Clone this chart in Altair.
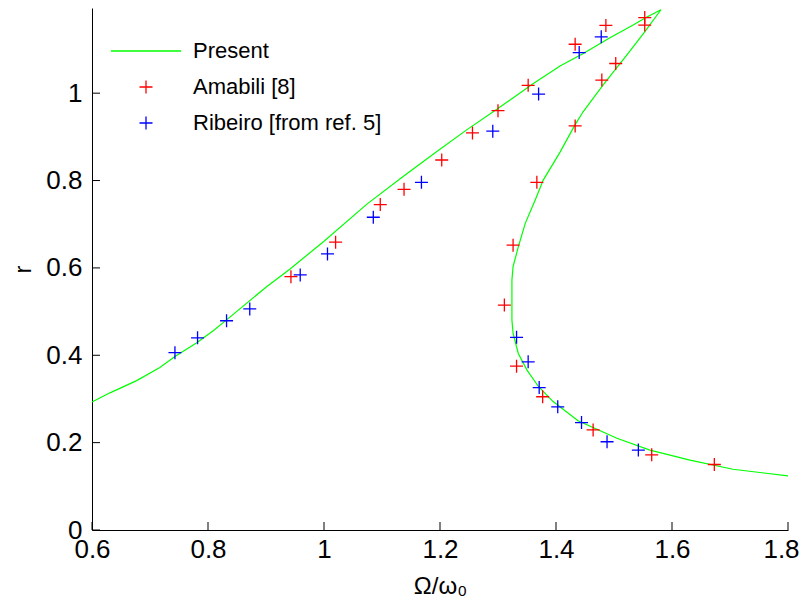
import altair as alt
import pandas as pd

# "Present" curve (continuous, with fold)
present_x = [0.600, 0.631, 0.677, 0.717, 0.743, 0.780, 0.809, 0.832, 0.901, 0.941, 0.999,
             1.074, 1.137, 1.194, 1.246, 1.298, 1.361, 1.407, 1.447, 1.493, 1.533, 1.556,
             1.581,
             1.551, 1.522, 1.499, 1.482, 1.464, 1.447, 1.433, 1.407, 1.378, 1.364, 1.347,
             1.335, 1.326, 1.324, 1.324, 1.326, 1.335, 1.350, 1.370, 1.395, 1.438, 1.505,
             1.562, 1.631, 1.705, 1.800]
present_r = [0.293, 0.314, 0.342, 0.372, 0.397, 0.428, 0.456, 0.481, 0.557, 0.597, 0.660,
             0.746, 0.810, 0.866, 0.916, 0.963, 1.022, 1.062, 1.091, 1.127, 1.156, 1.174,
             1.191,
             1.137, 1.087, 1.049, 1.020, 0.988, 0.958, 0.928, 0.865, 0.801, 0.755, 0.702,
             0.648, 0.603, 0.572, 0.481, 0.450, 0.404, 0.366, 0.328, 0.294, 0.250, 0.210,
             0.183, 0.160, 0.139, 0.124]

amabili_x = [0.943, 1.020, 1.097, 1.138, 1.203, 1.256, 1.300, 1.352, 1.433, 1.486, 1.553,
             1.553, 1.503, 1.479, 1.433, 1.367, 1.326, 1.311, 1.332, 1.377, 1.464, 1.565, 1.673]
amabili_r = [0.580, 0.659, 0.745, 0.780, 0.847, 0.909, 0.960, 1.018, 1.112, 1.155, 1.173,
             1.156, 1.068, 1.030, 0.925, 0.796, 0.652, 0.515, 0.375, 0.305, 0.229, 0.172, 0.150]

ribeiro_x = [0.743, 0.782, 0.832, 0.872, 0.959, 1.006, 1.085, 1.168, 1.291, 1.370, 1.440,
             1.478, 1.332, 1.352, 1.371, 1.403, 1.444, 1.488, 1.542]
ribeiro_r = [0.406, 0.440, 0.479, 0.506, 0.584, 0.632, 0.716, 0.796, 0.913, 0.998, 1.093,
             1.129, 0.441, 0.385, 0.326, 0.282, 0.246, 0.202, 0.183]

series_names = ["Present", "Amabili [8]", "Ribeiro [from ref. 5]"]
series_colors = ["#00ff00", "#ff0000", "#0000ff"]
series_shapes = ["M-5.4,0H5.4", "M-1,0H1M0,-1V1", "M-1,0H1M0,-1V1"]

x_ticks = [0.6, 0.8, 1.0, 1.2, 1.4, 1.6, 1.8]
y_ticks = [0, 0.2, 0.4, 0.6, 0.8, 1.0]

FONT = "Liberation Sans"
W, H = 696, 522
LBL = 26

line_df = pd.DataFrame({"x": present_x, "r": present_r, "idx": list(range(len(present_x)))})
pts_df = pd.DataFrame({
    "x": amabili_x + ribeiro_x,
    "r": amabili_r + ribeiro_r,
    "series": [series_names[1]] * len(amabili_x) + [series_names[2]] * len(ribeiro_x),
})

xscale = alt.Scale(domain=[0.6, 1.8], nice=False, zero=False)
yscale = alt.Scale(domain=[0, 1.195], nice=False, zero=False)

xaxis = alt.Axis(values=x_ticks, title="Ω/ω₀", ticks=False, grid=False, labelFlush=False,
                 labelExpr="format(datum.value, '~g')", labelFont=FONT, labelFontSize=LBL,
                 labelColor="black", labelPadding=6,
                 labelOffset={"condition": {"test": "datum.value > 1.75", "value": -7}, "value": 0},
                 titleFont=FONT, titleFontSize=24, titleFontWeight="normal", titleColor="black",
                 titlePadding=12, domainColor="black", domainWidth=1)
yaxis = alt.Axis(values=y_ticks, title="r", ticks=False, grid=False, labelFlush=False,
                 labelExpr="format(datum.value, '~g')", labelFont=FONT, labelFontSize=LBL,
                 labelColor="black", labelPadding=10,
                 titleFont=FONT, titleFontSize=24, titleFontWeight="normal", titleColor="black",
                 titlePadding=10, domainColor="black", domainWidth=1)

line = alt.Chart(line_df).mark_line(color="#00ff00", strokeWidth=1.2).encode(
    x=alt.X("x:Q", scale=xscale, axis=xaxis),
    y=alt.Y("r:Q", scale=yscale, axis=yaxis),
    order="idx:Q",
)

leg = dict(title=None, orient="none", legendX=43, legendY=32,
           symbolSize=169, symbolStrokeWidth=1.3,
           labelFontSize=22, labelFont=FONT, labelColor="black", labelLimit=400,
           labelOffset=36, rowPadding=14)

points = alt.Chart(pts_df).mark_point(filled=False, strokeWidth=1.3, size=169, opacity=1).encode(
    x=alt.X("x:Q", scale=xscale),
    y=alt.Y("r:Q", scale=yscale),
    color=alt.Color("series:N", scale=alt.Scale(domain=series_names, range=series_colors),
                    legend=alt.Legend(**leg)),
    shape=alt.Shape("series:N", scale=alt.Scale(domain=series_names, range=series_shapes),
                    legend=alt.Legend(**leg)),
)

xt = alt.Chart(pd.DataFrame({"v": x_ticks})).mark_rule(color="black", strokeWidth=1).encode(
    x=alt.X("v:Q", scale=xscale), y=alt.value(H), y2=alt.value(H - 8))
yt = alt.Chart(pd.DataFrame({"v": y_ticks})).mark_rule(color="black", strokeWidth=1).encode(
    y=alt.Y("v:Q", scale=yscale), x=alt.value(0), x2=alt.value(8))

chart = alt.layer(line, points, xt, yt).properties(
    width=W, height=H,
    autosize=alt.AutoSizeParams(type="none"),
    padding={"left": 84, "top": 0, "right": 12, "bottom": 70},
).configure_view(stroke=None)

chart.save("out.html", embed_options={"renderer": "svg", "actions": False})
